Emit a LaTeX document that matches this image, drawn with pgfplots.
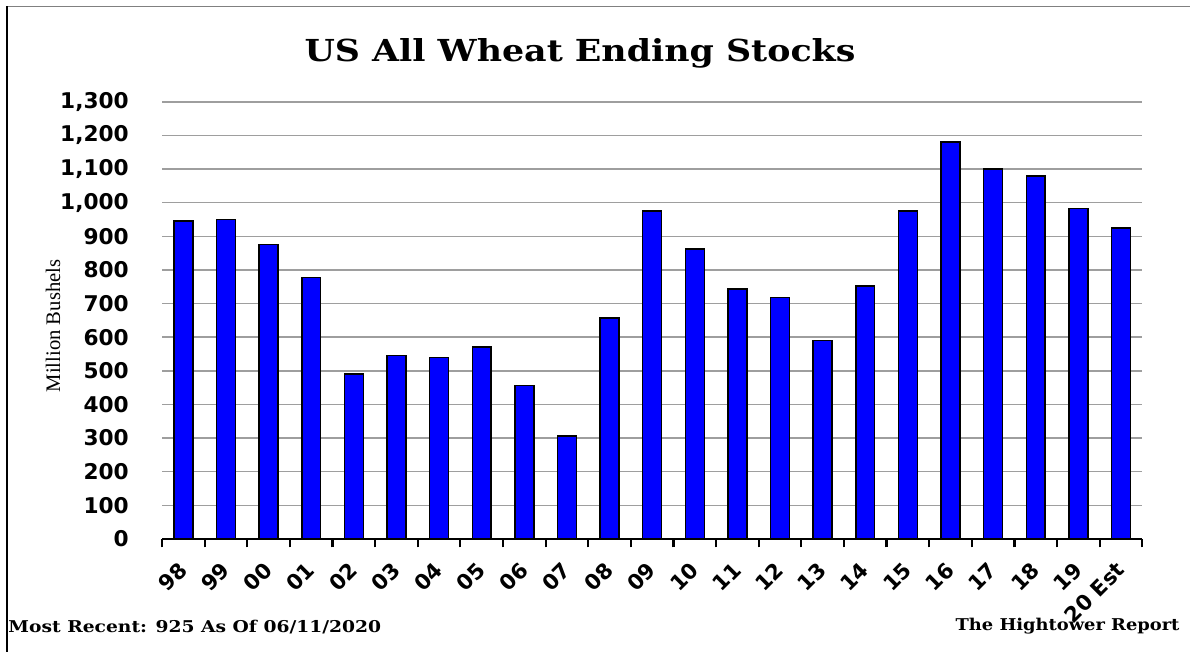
\documentclass[border=0pt]{standalone}
\usepackage{pgfplots}
\pgfplotsset{compat=1.18}
\usepackage{fontspec}
\setmainfont{DejaVu Serif}
\newfontfamily\tickfont{DejaVu Sans}
\newfontfamily\labfont{Liberation Serif}

\begin{document}
\begin{tikzpicture}[x=0.0142857cm,y=0.0142857cm]
% canvas in px of the reference, origin bottom left
\path[use as bounding box] (0,0) rectangle (1190,652);
\draw[gray, line width=0.6pt] (7,645.5) -- (1190,645.5);
\draw[black, line width=1pt] (7,645.5) -- (7,0);

\begin{axis}[
  at={(2.3143cm,1.6143cm)}, anchor=south west,
  scale only axis, width=14cm, height=6.2429cm,
  ybar, bar width=0.27cm,
  xmin=-0.5, xmax=22.5, ymin=0, ymax=1300,
  axis x line*=bottom, axis y line*=left,
  y axis line style={draw=none},
  x axis line style={line width=1.1pt, -},
  ytick={0,100,...,1300},
  xtick={0,...,22},
  xticklabels={98,99,00,01,02,03,04,05,06,07,08,09,10,11,12,13,14,15,16,17,18,19,20 Est},
  major tick length=0pt,
  minor xtick={-0.5,0.5,...,22.5},
  minor tick length=3.4pt, xtick align=outside,
  minor tick style={line width=0.9pt, black},
  ymajorgrids, grid style={draw=black!38, line width=0.6pt},
  /pgf/number format/assume math mode=true,
  /pgf/number format/1000 sep={,},
  yticklabel style={font=\tickfont\bfseries\fontsize{8.8}{10}\selectfont, anchor=east, xshift=-10pt},
  xticklabel style={font=\tickfont\bfseries\fontsize{8.6}{10}\selectfont, xshift=0pt, yshift=-11pt, rotate=45, anchor=east, inner sep=0pt},
]
\addplot[fill=blue, draw=black, line width=0.6pt] coordinates {
(0,946) (1,950) (2,876) (3,777) (4,491) (5,546) (6,540) (7,571)
(8,456) (9,306) (10,657) (11,976) (12,862) (13,743) (14,718) (15,590)
(16,752) (17,976) (18,1181) (19,1100) (20,1080) (21,983) (22,925)
};
\end{axis}

\node[anchor=base] at (580,590) {\scalebox{1.15}[1]{\fontsize{12.3}{14}\selectfont\bfseries US All Wheat Ending Stocks}};
\node[rotate=90] at (53,326) {\labfont\fontsize{8.4}{10}\selectfont Million Bushels};
\node[anchor=base west, inner sep=0pt] at (8,19) {\scalebox{1.15}[1]{\fontsize{6.6}{8}\selectfont\bfseries Most Recent: 925 As Of 06/11/2020}};
\node[anchor=base east, inner sep=0pt] at (1180,21) {\scalebox{1.1}[1]{\fontsize{6.6}{8}\selectfont\bfseries The Hightower Report}};
\end{tikzpicture}
\end{document}
